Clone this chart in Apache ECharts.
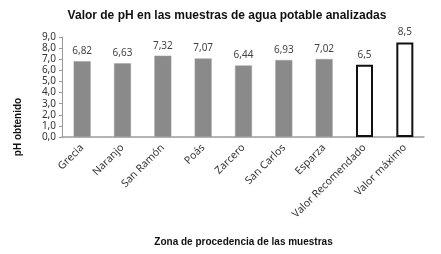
<!DOCTYPE html>
<html>
<head>
<meta charset="utf-8">
<script src="https://cdn.jsdelivr.net/npm/echarts@6/dist/echarts.min.js"></script>
<style>
  html, body { margin: 0; padding: 0; background: #fff; }
  #chart { width: 441px; height: 254px; }
</style>
</head>
<body>
<div id="chart"></div>
<script>
const categories = ['Grecia', 'Naranjo', 'San Ramón', 'Poás', 'Zarcero', 'San Carlos', 'Esparza', 'Valor Recomendado', 'Valor máximo'];
const phValues = [6.82, 6.63, 7.32, 7.07, 6.44, 6.93, 7.02, 6.5, 8.5];
// the last two are reference values, drawn as outlined bars
const referenceCount = 2;

const chart = echarts.init(document.getElementById('chart'), null, { renderer: 'canvas' });

const fmt = v => String(v).replace('.', ',');

const seriesData = phValues.map((v, i) => {
  const isRef = i >= phValues.length - referenceCount;
  return {
    value: v,
    itemStyle: isRef
      ? { color: '#ffffff', borderColor: '#111', borderWidth: 2 }
      : { color: '#8a8a8a', borderColor: '#a0a0a0', borderWidth: 0.5 }
  };
});

chart.setOption({
  animation: false,
  title: {
    text: 'Valor de pH en las muestras de agua potable analizadas',
    left: 222,
    textAlign: 'center',
    top: 5,
    textStyle: { fontFamily: 'Liberation Sans', fontSize: 12, fontWeight: 'bold', color: '#111' }
  },
  grid: { left: 62, right: 16, top: 37, bottom: 117 },
  xAxis: {
    type: 'category',
    data: categories,
    name: 'Zona de procedencia de las muestras',
    nameLocation: 'center',
    nameGap: 100,
    nameTextStyle: { fontFamily: 'Liberation Sans', fontSize: 10, fontWeight: 'bold', color: '#111' },
    axisLine: { lineStyle: { color: '#999', width: 1.5, type: [2, 1] } },
    axisTick: { show: false },
    axisLabel: {
      rotate: 45,
      interval: 0,
      margin: 9,
      fontFamily: 'Noto Sans',
      fontSize: 10.5,
      color: '#333'
    }
  },
  yAxis: {
    type: 'value',
    min: 0,
    max: 9,
    interval: 1,
    splitLine: { show: false },
    axisLine: { show: true, lineStyle: { color: '#999' } },
    axisTick: { show: true, length: 3, lineStyle: { color: '#999' } },
    axisLabel: {
      margin: 6,
      fontFamily: 'Noto Sans',
      fontSize: 10,
      color: '#333',
      formatter: v => v.toFixed(1).replace('.', ',')
    }
  },
  graphic: [{
    type: 'text',
    x: 18,
    y: 127,
    rotation: Math.PI / 2,
    style: {
      text: 'pH obtenido',
      fontFamily: 'Liberation Sans',
      fontSize: 10,
      fontWeight: 'bold',
      fill: '#111',
      align: 'center',
      verticalAlign: 'middle'
    }
  }],
  series: [{
    type: 'bar',
    data: seriesData,
    barWidth: 17,
    label: {
      show: true,
      position: 'top',
      distance: 5,
      fontFamily: 'Noto Sans',
      fontSize: 10,
      color: '#444',
      formatter: p => fmt(p.value)
    }
  }]
});
</script>
</body>
</html>
